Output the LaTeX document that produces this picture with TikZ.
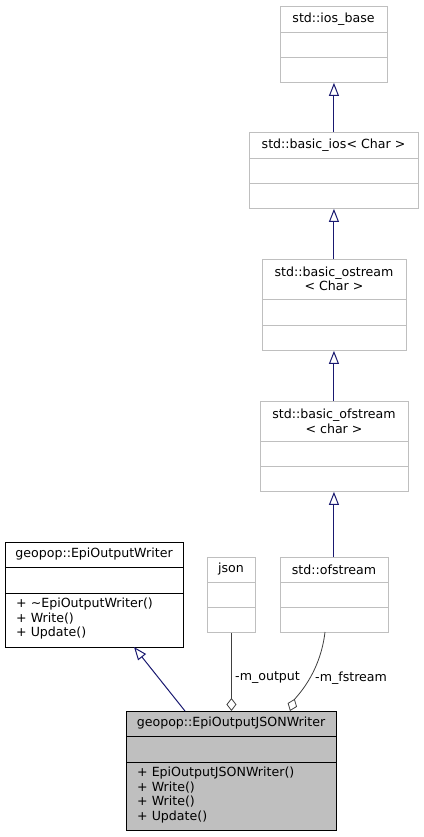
\documentclass[tikz,border=0pt]{standalone}
\usepackage{fontspec}
\setmainfont{DejaVu Sans}
\usetikzlibrary{arrows.meta}
\definecolor{edgeblue}{HTML}{191970}
\definecolor{boxgray}{HTML}{BFBFBF}
\definecolor{aggray}{HTML}{404040}
\begin{document}
\begin{tikzpicture}[x=1pt,y=-1pt,
  font=\fontsize{12.6}{14.6}\selectfont,
  graybox/.style={draw=boxgray, line width=0.9pt, fill=white, anchor=north west, inner sep=0pt},
  blackbox/.style={draw=black, line width=0.9pt, fill=white, anchor=north west, inner sep=0pt},
  cursor/.style={draw=black, line width=0.9pt, fill=boxgray, anchor=north west, inner sep=0pt},
  title/.style={anchor=center, inner sep=0pt, align=center},
  members/.style={anchor=north west, inner sep=0pt, align=left},
  inh/.style={draw=edgeblue, line width=1pt, -{Triangle[open, length=13pt, width=10pt, fill=white]}},
  agg/.style={draw=aggray, line width=0.8pt, {Diamond[open, length=13pt, width=10pt, fill=white]}-},
  lbl/.style={inner sep=0pt, anchor=west}
]
\useasboundingbox (0,0) rectangle (423,837);

% std::ios_base
\node[graybox, minimum width=107pt, minimum height=76pt] (iosbase) at (280,6) {};
\draw[boxgray, line width=0.9pt] (280,32) -- (387,32) (280,57) -- (387,57);
\node[title] (tiosbase) at (333.5,19) {std::ios\_base};

% std::basic_ios
\node[graybox, minimum width=169pt, minimum height=76pt] (basicios) at (249,132) {};
\draw[boxgray, line width=0.9pt] (249,158) -- (418,158) (249,183) -- (418,183);
\node[title] (tbasicios) at (333.5,145) {std::basic\_ios< Char >};

% std::basic_ostream
\node[graybox, minimum width=144pt, minimum height=91pt] (basicostream) at (262,259) {};
\draw[boxgray, line width=0.9pt] (262,299) -- (406,299) (262,325) -- (406,325);
\node[title] (tbasicostream) at (334,279) {std::basic\_ostream\\< Char >};

% std::basic_ofstream
\node[graybox, minimum width=148pt, minimum height=90pt] (basicofstream) at (260,401) {};
\draw[boxgray, line width=0.9pt] (260,441) -- (408,441) (260,466) -- (408,466);
\node[title] (tbasicofstream) at (334,421) {std::basic\_ofstream\\< char >};

% geopop::EpiOutputWriter
\node[blackbox, minimum width=178pt, minimum height=105pt] (epiwriter) at (5,542) {};
\draw[black, line width=0.9pt] (5,567) -- (183,567) (5,593) -- (183,593);
\node[title] (tepiwriter) at (94,554.5) {geopop::EpiOutputWriter};
\node[members] (mepiwriter) at (16,598) {+ \textasciitilde EpiOutputWriter()\\+ Write()\\+ Update()};

% json
\node[graybox, minimum width=48pt, minimum height=75pt] (json) at (207,557) {};
\draw[boxgray, line width=0.9pt] (207,582) -- (255,582) (207,607) -- (255,607);
\node[title] (tjson) at (231,569.5) {json};

% std::ofstream
\node[graybox, minimum width=108pt, minimum height=75pt] (ofstream) at (280,557) {};
\draw[boxgray, line width=0.9pt] (280,582) -- (388,582) (280,607) -- (388,607);
\node[title] (tofstream) at (334,569.5) {std::ofstream};

% geopop::EpiOutputJSONWriter
\node[cursor, minimum width=210pt, minimum height=119pt] (jsonwriter) at (126,711) {};
\draw[black, line width=0.9pt] (126,736) -- (336,736) (126,762) -- (336,762);
\node[title] (tjsonwriter) at (231,723.5) {geopop::EpiOutputJSONWriter};
\node[members] (mjsonwriter) at (137,767) {+ EpiOutputJSONWriter()\\+ Write()\\+ Write()\\+ Update()};

% inheritance
\draw[inh] (basicios.north -| iosbase.south) -- (iosbase.south);
\draw[inh] (basicostream.north -| iosbase.south) -- (basicios.south -| iosbase.south);
\draw[inh] (basicofstream.north -| iosbase.south) -- (basicostream.south -| iosbase.south);
\draw[inh] (ofstream.north -| iosbase.south) -- (basicofstream.south -| iosbase.south);
\coordinate (jwtop) at (185,711);
\coordinate (ewbot) at (134,647);
\draw[inh] (jwtop) -- (ewbot);

% aggregation
\draw[agg] (json.south |- jsonwriter.north) -- (json.south);
\node[lbl] (lout) at (235,678) {-m\_output};
\coordinate (fsend) at (290,711);
\coordinate (fsstart) at (325,632);
\draw[agg] (fsend) .. controls (295,698) and (320,675) .. (fsstart);
\node[lbl] (lfs) at (315,678) {-m\_fstream};
\end{tikzpicture}
\end{document}
